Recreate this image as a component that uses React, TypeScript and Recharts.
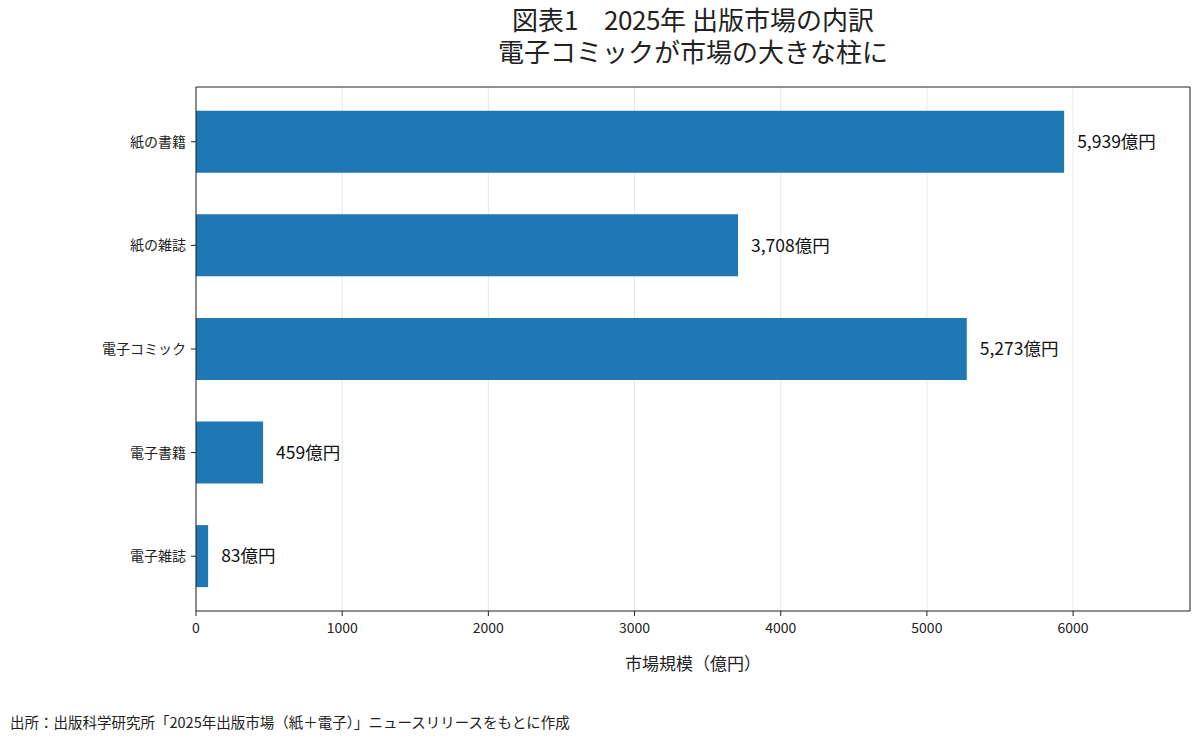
import React from 'react';
import { BarChart, Bar, XAxis, YAxis, CartesianGrid, LabelList } from 'recharts';

const categories = ['紙の書籍', '紙の雑誌', '電子コミック', '電子書籍', '電子雑誌'];
const values = [5939, 3708, 5273, 459, 83];
const xTicks = [0, 1000, 2000, 3000, 4000, 5000, 6000];
const titleLines = ['図表1　2025年 出版市場の内訳', '電子コミックが市場の大きな柱に'];

const data = categories.map((name, i) => ({ name, value: values[i] }));

const FONT = '"Noto Sans CJK JP", "Noto Sans", sans-serif';
const TITLE_FONT = '"TitleJP", "Noto Sans CJK JP", sans-serif';
const INK = '#222';

// same glyphs as Noto Sans CJK JP, tighter line box so the two title lines don't collide
const css = `
body{margin:0}
@font-face{
  font-family:"TitleJP";
  src: local("Noto Sans CJK JP"), local("Noto Sans CJK JP Regular"), local("NotoSansCJKjp-Regular");
  ascent-override: 88%;
  descent-override: 12%;
  line-gap-override: 0%;
}
`;

const formatValue = (v: any) => `${Number(v).toLocaleString('en-US')}億円`;

const App: React.FC = () => {
  return (
    <div style={{ position: 'relative', width: 1200, height: 744, background: '#fff', fontFamily: FONT, color: INK }}>
      <style>{css}</style>
      {titleLines.map((t, i) => (
        <div
          key={t}
          style={{
            position: 'absolute',
            left: 196,
            width: 994,
            top: 4 + i * 32,
            height: 32,
            textAlign: 'center',
            fontFamily: TITLE_FONT,
            fontSize: 26,
            lineHeight: '32px',
          }}
        >
          {t}
        </div>
      ))}

      <BarChart
        width={1200}
        height={744}
        data={data}
        layout="vertical"
        margin={{ top: 86, right: 9, bottom: 63, left: 0 }}
        barCategoryGap="20%"
        style={{ fontFamily: FONT }}
      >
        <XAxis
          type="number"
          domain={[0, 6800]}
          ticks={xTicks}
          allowDataOverflow
          height={70}
          tickSize={5}
          tickMargin={7}
          tick={{ fontSize: 14, fill: INK }}
          stroke={INK}
          label={{ value: '市場規模（億円）', position: 'insideBottom', offset: 11, fontSize: 17, fill: INK }}
        />
        <XAxis
          xAxisId="top"
          orientation="top"
          type="number"
          domain={[0, 6800]}
          height={1}
          tick={false}
          tickLine={false}
          stroke={INK}
        />
        <YAxis
          type="category"
          dataKey="name"
          width={196}
          tickSize={5}
          tickMargin={5}
          padding={{ top: 3, bottom: 3 }}
          tick={{ fontSize: 14, fill: INK }}
          stroke={INK}
        />
        <YAxis
          yAxisId="right"
          orientation="right"
          type="category"
          dataKey="name"
          width={1}
          tick={false}
          tickLine={false}
          stroke={INK}
        />
        <Bar dataKey="value" fill="#1f77b4" isAnimationActive={false}>
          <LabelList
            dataKey="value"
            position="right"
            offset={13}
            formatter={formatValue}
            style={{ fontSize: 17.5, fill: '#111', fontFamily: FONT }}
          />
        </Bar>
        <CartesianGrid horizontal={false} stroke="#b0b0b0" strokeOpacity={0.3} />
      </BarChart>

      <div style={{ position: 'absolute', left: 10, top: 712, fontSize: 14.5, lineHeight: '20px' }}>
        出所：出版科学研究所「2025年出版市場（紙＋電子）」ニュースリリースをもとに作成
      </div>
    </div>
  );
};

export default App;
